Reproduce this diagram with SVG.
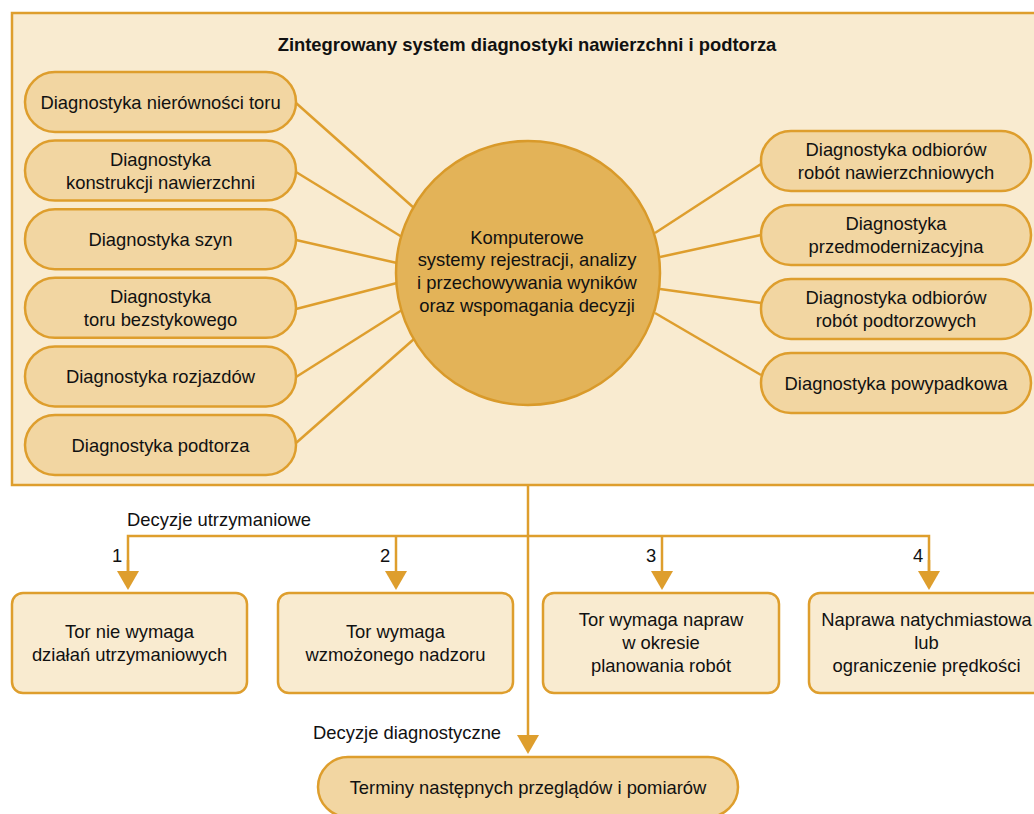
<svg xmlns="http://www.w3.org/2000/svg" width="1034" height="814" viewBox="0 0 1034 814">
<style>
text{font-family:"Liberation Sans",Arial,Helvetica,sans-serif;font-size:18.4px;fill:#111;text-anchor:middle}
.title{font-weight:bold}
.lbl{text-anchor:start}
.pill{fill:#f2d6a2;stroke:#de9e2d;stroke-width:2.5}
.box{fill:#f9ebd0;stroke:#de9e2d;stroke-width:2.5}
.hub{fill:#e3b358;stroke:#d99a2a;stroke-width:2.5}
.ln{stroke:#de9e2d;stroke-width:2.5;fill:none}
</style>
<defs>
<marker id="arr" viewBox="0 0 19 22" refX="0" refY="11" markerWidth="19" markerHeight="22" markerUnits="userSpaceOnUse" orient="auto">
<path d="M0,0 L19,11 L0,22 z" fill="#de9e2d"/>
</marker>
</defs>
<g id="container">
<rect x="12" y="13" width="1040" height="472" fill="#f9ebd0" stroke="#de9e2d" stroke-width="2.5"/>
<text class="title" x="527" y="51">Zintegrowany system diagnostyki nawierzchni i podtorza</text>
</g>
<g id="connectors">
<line class="ln" x1="296" y1="103" x2="414" y2="208"/>
<line class="ln" x1="296" y1="172" x2="402" y2="237"/>
<line class="ln" x1="296" y1="240" x2="397" y2="263"/>
<line class="ln" x1="296" y1="309" x2="397" y2="283"/>
<line class="ln" x1="296" y1="377" x2="402" y2="310"/>
<line class="ln" x1="296" y1="443" x2="414" y2="339"/>
<line class="ln" x1="655" y1="233" x2="761" y2="164"/>
<line class="ln" x1="660" y1="257" x2="761" y2="235"/>
<line class="ln" x1="660" y1="289" x2="761" y2="303"/>
<line class="ln" x1="655" y1="313" x2="761" y2="375"/>
<line class="ln" x1="528" y1="485" x2="528" y2="735" marker-end="url(#arr)"/>
<polyline class="ln" points="128,571 128,536 929,536 929,571"/>
<line class="ln" x1="128" y1="560" x2="128" y2="571" marker-end="url(#arr)"/>
<line class="ln" x1="396" y1="536" x2="396" y2="571" marker-end="url(#arr)"/>
<line class="ln" x1="662" y1="536" x2="662" y2="571" marker-end="url(#arr)"/>
<line class="ln" x1="929" y1="560" x2="929" y2="571" marker-end="url(#arr)"/>
<text class="lbl" x="127" y="526">Decyzje utrzymaniowe</text>
<text x="117" y="562">1</text>
<text x="385" y="562">2</text>
<text x="651" y="562">3</text>
<text x="918" y="562">4</text>
<text class="lbl" x="313" y="739">Decyzje diagnostyczne</text>
</g>
<g id="n-hub">
<circle class="hub" cx="528" cy="273" r="132"/>
<text x="527" y="243.5">Komputerowe</text>
<text x="527" y="266.3">systemy rejestracji, analizy</text>
<text x="527" y="289">i przechowywania wyników</text>
<text x="527" y="311.7">oraz wspomagania decyzji</text>
</g>
<g id="n-l1"><rect class="pill" x="25" y="72" width="271" height="60" rx="30"/><text x="160.5" y="108.5">Diagnostyka nierówności toru</text></g>
<g id="n-l2"><rect class="pill" x="25" y="140.6" width="271" height="60" rx="30"/><text x="160.5" y="165.6">Diagnostyka</text><text x="160.5" y="188.6">konstrukcji nawierzchni</text></g>
<g id="n-l3"><rect class="pill" x="25" y="209.2" width="271" height="60" rx="30"/><text x="160.5" y="245.7">Diagnostyka szyn</text></g>
<g id="n-l4"><rect class="pill" x="25" y="277.8" width="271" height="60" rx="30"/><text x="160.5" y="302.8">Diagnostyka</text><text x="160.5" y="325.8">toru bezstykowego</text></g>
<g id="n-l5"><rect class="pill" x="25" y="346.4" width="271" height="60" rx="30"/><text x="160.5" y="382.9">Diagnostyka rozjazdów</text></g>
<g id="n-l6"><rect class="pill" x="25" y="415" width="271" height="60" rx="30"/><text x="160.5" y="451.5">Diagnostyka podtorza</text></g>
<g id="n-r1"><rect class="pill" x="761" y="131" width="270" height="60" rx="30"/><text x="896" y="156">Diagnostyka odbiorów</text><text x="896" y="179">robót nawierzchniowych</text></g>
<g id="n-r2"><rect class="pill" x="761" y="205" width="270" height="60" rx="30"/><text x="896" y="230">Diagnostyka</text><text x="896" y="253">przedmodernizacyjna</text></g>
<g id="n-r3"><rect class="pill" x="761" y="279" width="270" height="60" rx="30"/><text x="896" y="304">Diagnostyka odbiorów</text><text x="896" y="327">robót podtorzowych</text></g>
<g id="n-r4"><rect class="pill" x="761" y="353" width="270" height="60" rx="30"/><text x="896" y="389.5">Diagnostyka powypadkowa</text></g>
<g id="n-b1"><rect class="box" x="12" y="593" width="235" height="100" rx="11"/><text x="129.5" y="637.5">Tor nie wymaga</text><text x="129.5" y="660.5">działań utrzymaniowych</text></g>
<g id="n-b2"><rect class="box" x="278" y="593" width="235" height="100" rx="11"/><text x="395.5" y="637.5">Tor wymaga</text><text x="395.5" y="660.5">wzmożonego nadzoru</text></g>
<g id="n-b3"><rect class="box" x="543" y="593" width="236" height="100" rx="11"/><text x="661" y="625.5">Tor wymaga napraw</text><text x="661" y="648.5">w okresie</text><text x="661" y="671.5">planowania robót</text></g>
<g id="n-b4"><rect class="box" x="809" y="593" width="235" height="100" rx="11"/><text x="926.5" y="625.5">Naprawa natychmiastowa</text><text x="926.5" y="648.5">lub</text><text x="926.5" y="671.5">ograniczenie prędkości</text></g>
<g id="n-term"><rect class="pill" x="318" y="757" width="420" height="60" rx="30"/><text x="528" y="793.5">Terminy następnych przeglądów i pomiarów</text></g>
</svg>
